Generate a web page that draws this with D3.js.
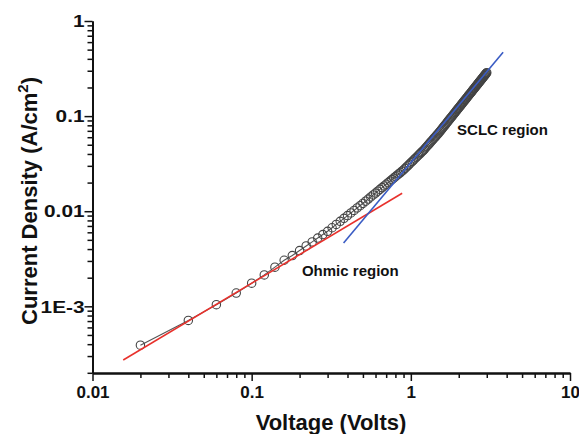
<!DOCTYPE html>
<html>
<head>
<meta charset="utf-8">
<script src="https://cdn.jsdelivr.net/npm/d3@7"></script>
<style>
  html, body { margin: 0; padding: 0; background: #fff; }
  svg { display: block; }
  text { font-family: "Liberation Sans", Arial, sans-serif; font-weight: bold; fill: #111; }
</style>
</head>
<body>
<div id="chart"></div>
<script>
// ---------------- data ----------------
const voltage = [
  0.02,0.04,0.06,0.08,0.10,0.12,0.14,0.16,0.18,0.20,
  0.22,0.24,0.26,0.28,0.30,0.32,0.34,0.36,0.38,0.40,
  0.42,0.44,0.46,0.48,0.50,0.52,0.54,0.56,0.58,0.60,
  0.62,0.64,0.66,0.68,0.70,0.72,0.74,0.76,0.78,0.80,
  0.82,0.84,0.86,0.88,0.90,0.92,0.94,0.96,0.98,1.00,
  1.02,1.04,1.06,1.08,1.10,1.12,1.14,1.16,1.18,1.20,
  1.22,1.24,1.26,1.28,1.30,1.32,1.34,1.36,1.38,1.40,
  1.42,1.44,1.46,1.48,1.50,1.52,1.54,1.56,1.58,1.60,
  1.62,1.64,1.66,1.68,1.70,1.72,1.74,1.76,1.78,1.80,
  1.82,1.84,1.86,1.88,1.90,1.92,1.94,1.96,1.98,2.00,
  2.02,2.04,2.06,2.08,2.10,2.12,2.14,2.16,2.18,2.20,
  2.22,2.24,2.26,2.28,2.30,2.32,2.34,2.36,2.38,2.40,
  2.42,2.44,2.46,2.48,2.50,2.52,2.54,2.56,2.58,2.60,
  2.62,2.64,2.66,2.68,2.70,2.72,2.74,2.76,2.78,2.80,
  2.82,2.84,2.86,2.88,2.90,2.92,2.94,2.96,2.98,3.00
];
const currentDensity = [
  3.9e-4,7.1e-4,1.04e-3,1.38e-3,1.75e-3,2.14e-3,2.58e-3,3.05e-3,3.42e-3,3.86e-3,
  4.31e-3,4.76e-3,5.22e-3,5.68e-3,6.15e-3,6.70e-3,7.26e-3,7.83e-3,8.41e-3,9.00e-3,
  9.59e-3,1.020e-2,1.082e-2,1.144e-2,1.208e-2,1.275e-2,1.343e-2,1.412e-2,1.482e-2,1.553e-2,
  1.625e-2,1.697e-2,1.771e-2,1.846e-2,1.921e-2,1.997e-2,2.074e-2,2.152e-2,2.230e-2,2.310e-2,
  2.390e-2,2.470e-2,2.552e-2,2.634e-2,2.717e-2,2.818e-2,2.920e-2,3.023e-2,3.127e-2,3.234e-2,
  3.341e-2,3.450e-2,3.561e-2,3.671e-2,3.784e-2,3.899e-2,4.014e-2,4.132e-2,4.249e-2,4.368e-2,
  4.507e-2,4.649e-2,4.793e-2,4.938e-2,5.085e-2,5.235e-2,5.386e-2,5.541e-2,5.696e-2,5.854e-2,
  6.014e-2,6.175e-2,6.339e-2,6.505e-2,6.673e-2,6.862e-2,7.052e-2,7.247e-2,7.443e-2,7.643e-2,
  7.844e-2,8.049e-2,8.255e-2,8.466e-2,8.679e-2,8.894e-2,9.113e-2,9.334e-2,9.558e-2,9.788e-2,
  0.1002,0.1025,0.1049,0.1072,0.1097,0.1121,0.1146,0.1171,0.1196,0.1221,
  0.1247,0.1273,0.1299,0.1326,0.1353,0.1380,0.1408,0.1436,0.1464,0.1492,
  0.1520,0.1549,0.1578,0.1608,0.1638,0.1668,0.1698,0.1729,0.1760,0.1791,
  0.1822,0.1854,0.1886,0.1919,0.1951,0.1984,0.2017,0.2051,0.2085,0.2118,
  0.2153,0.2188,0.2223,0.2258,0.2294,0.2330,0.2366,0.2402,0.2439,0.2476,
  0.2512,0.2551,0.2588,0.2626,0.2665,0.2703,0.2743,0.2782,0.2822,0.2862
];
// linear fits (two end points each)
const ohmicFitV = [0.0156, 0.882];
const ohmicFitJ = [2.73e-4, 1.544e-2];
const sclcFitV  = [0.378, 3.8];
const sclcFitJ  = [4.64e-3, 0.469];

const xTickValues = [0.01, 0.1, 1, 10];
const xTickLabels = ["0.01", "0.1", "1", "10"];
const yTickValues = [1e-3, 0.01, 0.1, 1];
const yTickLabels = ["1E-3", "0.01", "0.1", "1"];

const xTitle = "Voltage (Volts)";
const yTitle = "Current Density (A/cm";
const regionLabels = ["Ohmic region", "SCLC region"];

// ---------------- layout ----------------
const W = 579, H = 434;
const svg = d3.select("#chart").append("svg").attr("width", W).attr("height", H);
svg.append("rect").attr("width", W).attr("height", H).attr("fill", "#fff");

const x = d3.scaleLog().domain([0.01, 10]).range([92.5, 570]);
const y = d3.scaleLog().domain([2e-4, 1]).range([372.8, 21]);

function minorTicks(domain) {
  const out = [];
  const lo = Math.floor(Math.log10(domain[0])), hi = Math.ceil(Math.log10(domain[1]));
  for (let e = lo; e < hi; e++) {
    for (let m = 2; m <= 9; m++) {
      const v = m * Math.pow(10, e);
      if (v >= domain[0] * 0.999 && v <= domain[1] * 1.001) out.push(v);
    }
  }
  return out;
}

// ---------------- data marks ----------------
const pts = voltage.map((v, i) => [v, currentDensity[i]]);
const line = d3.line().x(d => x(d[0])).y(d => y(d[1]));

svg.append("path").datum(pts)
  .attr("d", line)
  .attr("fill", "none").attr("stroke", "#555").attr("stroke-width", 1.1);

svg.append("g").selectAll("circle").data(pts).join("circle")
  .attr("cx", d => x(d[0])).attr("cy", d => y(d[1])).attr("r", 4.2)
  .attr("fill", "none").attr("stroke", "#444").attr("stroke-width", 1.1);

svg.append("path").datum(ohmicFitV.map((v, i) => [v, ohmicFitJ[i]]))
  .attr("d", line).attr("fill", "none").attr("stroke", "#e8312c").attr("stroke-width", 1.6);
svg.append("path").datum(sclcFitV.map((v, i) => [v, sclcFitJ[i]]))
  .attr("d", line).attr("fill", "none").attr("stroke", "#3a5cc4").attr("stroke-width", 1.6);

// ---------------- axes ----------------
const xAxisY = 373;
const gxMinor = svg.append("g").attr("transform", `translate(0,${xAxisY})`)
  .call(d3.axisBottom(x).tickValues(minorTicks(x.domain())).tickSize(5).tickSizeOuter(0).tickFormat(""));
const gx = svg.append("g").attr("transform", `translate(0,${xAxisY})`)
  .call(d3.axisBottom(x).tickValues(xTickValues).tickSize(8).tickSizeOuter(0)
    .tickFormat((d, i) => xTickLabels[i]));
const yAxisX = 92.5;
const gyMinor = svg.append("g").attr("transform", `translate(${yAxisX},0)`)
  .call(d3.axisLeft(y).tickValues(minorTicks(y.domain())).tickSize(5).tickSizeOuter(0).tickFormat(""));
const gy = svg.append("g").attr("transform", `translate(${yAxisX},0)`)
  .call(d3.axisLeft(y).tickValues(yTickValues).tickSize(8).tickSizeOuter(0)
    .tickFormat((d, i) => yTickLabels[i]));

[gx, gy, gxMinor, gyMinor].forEach(g => {
  g.selectAll(".domain").attr("stroke", "#111").attr("stroke-width", 2);
  g.selectAll(".tick line").attr("stroke", "#111").attr("stroke-width", 1.5);
});
gx.selectAll(".tick text")
  .attr("y", 13).attr("dy", "0.71em")
  .style("font-size", "17px").attr("fill", "#111");
const ySx = 1.3;
gy.selectAll(".tick text")
  .attr("x", -8 / ySx).attr("dy", "0.36em")
  .attr("transform", `scale(${ySx},1)`)
  .style("font-size", "16px").attr("fill", "#111");

// ---------------- titles ----------------
svg.append("text")
  .attr("x", 331).attr("y", 430).attr("text-anchor", "middle")
  .style("font-size", "22px").text(xTitle);

const yt = svg.append("text")
  .attr("transform", "translate(37,201) rotate(-90)")
  .attr("text-anchor", "middle")
  .style("font-size", "22px");
yt.append("tspan").text(yTitle);
yt.append("tspan").attr("dy", "-9").style("font-size", "15px").text("2");
yt.append("tspan").attr("dy", "9").text(")");

// ---------------- annotations ----------------
svg.append("text").attr("x", x(0.207)).attr("y", y(2.08e-3))
  .style("font-size", "15px").text(regionLabels[0]);
svg.append("text").attr("x", x(1.953)).attr("y", y(0.0631))
  .style("font-size", "15px").text(regionLabels[1]);
</script>
</body>
</html>
